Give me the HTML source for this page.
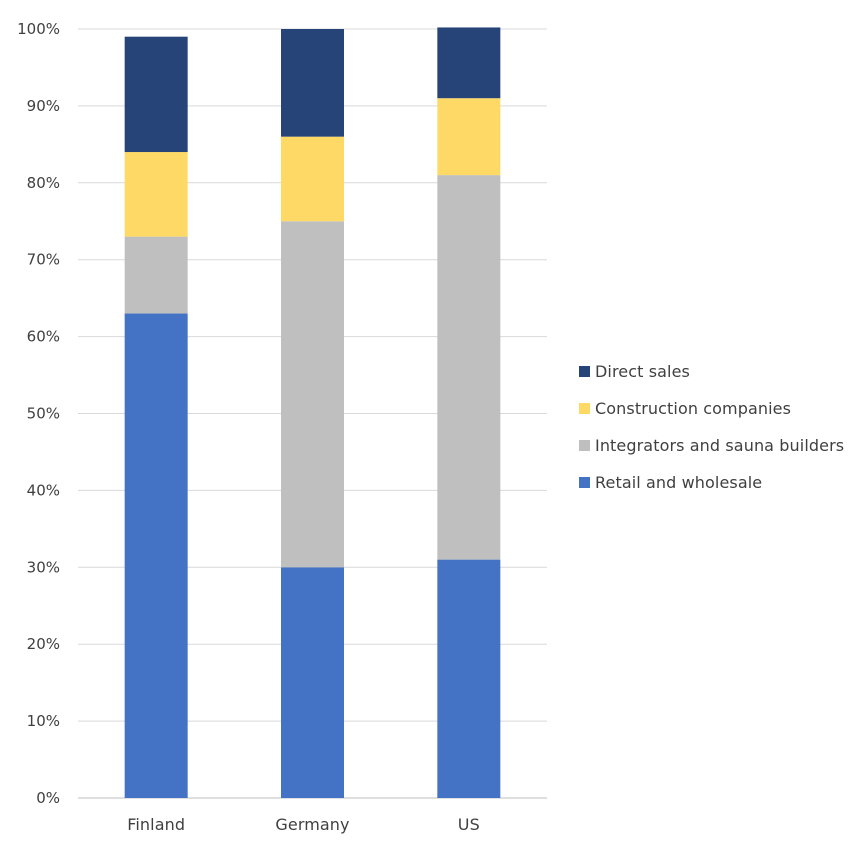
<!DOCTYPE html>
<html><head><meta charset="utf-8"><style>
html,body{margin:0;padding:0;background:#fff;}
svg text{font-family:"DejaVu Sans","Liberation Sans",sans-serif;fill:#404040;font-size:15px;}
svg text.big{font-size:16px;letter-spacing:0.1px;}
</style></head><body>
<svg id="chart" width="858" height="846" viewBox="0 0 858 846" xmlns="http://www.w3.org/2000/svg">
<g id="grid"></g>
<g id="yaxis"></g>
<g id="bars"></g>
<g id="xaxis"></g>
<g id="legend"></g>
</svg>
<script>
const categories = ["Finland","Germany","US"];
const seriesNames = ["Retail and wholesale","Integrators and sauna builders","Construction companies","Direct sales"];
const retail = [63,30,31];
const integrators = [10,45,50];
const construction = [11,11,10];
const direct = [15,14,9.2];
const yTicks = [0,10,20,30,40,50,60,70,80,90,100];
const colors = ["#4472C4","#BFBFBF","#FFD966","#264478"];

const NS="http://www.w3.org/2000/svg";
const y0=798, y100=29, xL=78, xR=547;
function yScale(v){return y0-(y0-y100)*v/100;}
const band=(xR-xL)/categories.length;
function xCenter(i){return xL+band*(i+0.5);}
const barW=63;
function mk(tag,attrs,parent){const e=document.createElementNS(NS,tag);for(const k in attrs)e.setAttribute(k,attrs[k]);parent.appendChild(e);return e;}

const grid=document.getElementById('grid'), yaxis=document.getElementById('yaxis');
yTicks.forEach(t=>{
  const l=mk('line',{x1:xL,x2:xR,y1:yScale(t),y2:yScale(t),stroke:t===0?'#bfbfbf':'#d9d9d9','stroke-width':1},grid);
  
  
  const tx=mk('text',{x:60,y:yScale(t)+5,'text-anchor':'end'},yaxis);
  tx.textContent=t+'%';
  
  
});

const bars=document.getElementById('bars'), xaxis=document.getElementById('xaxis');
const series=[retail,integrators,construction,direct];
categories.forEach((c,i)=>{
  let cum=0;
  series.forEach((s,j)=>{
    const top=yScale(cum+s[i]), bot=yScale(cum);
    const r=mk('rect',{x:xCenter(i)-barW/2,y:top,width:barW,height:bot-top,fill:colors[j]},bars);
    
    
    cum+=s[i];
  });
  const tx=mk('text',{x:xCenter(i),y:830,'text-anchor':'middle','class':'big'},xaxis);
  tx.textContent=c;
  
  
});

const legend=document.getElementById('legend');
const legYs=[482,445,408,371];
seriesNames.forEach((n,j)=>{
  const g=mk('g',{},legend);
  
  
  mk('rect',{x:579,y:legYs[j]-5,width:11,height:11,fill:colors[j]},g);
  const tx=mk('text',{x:595,y:legYs[j]+6,'class':'big'},g);
  tx.textContent=n;
});
</script>
</body></html>
